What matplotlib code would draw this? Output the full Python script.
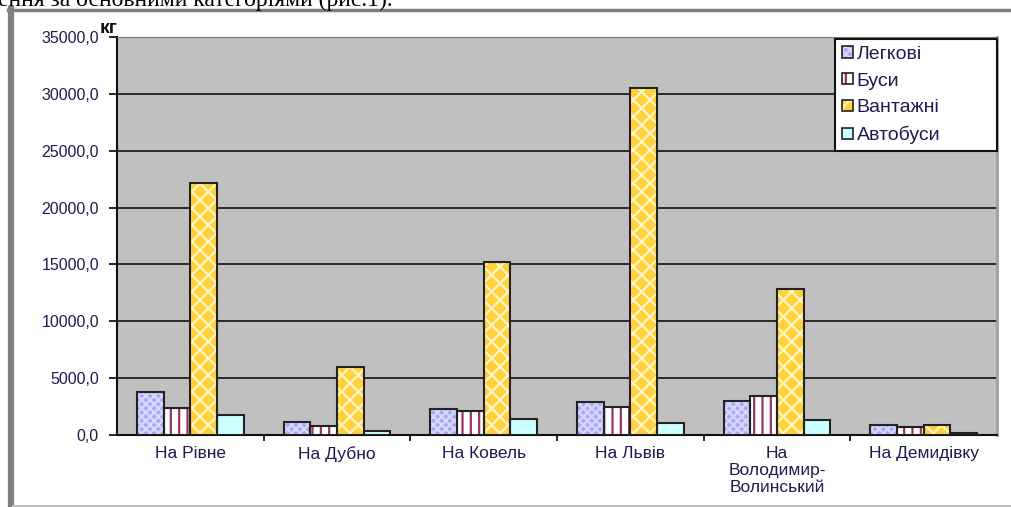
import numpy as np
import matplotlib
matplotlib.use("Agg")
import matplotlib.pyplot as plt
from matplotlib.patches import Patch
from matplotlib.lines import Line2D
from matplotlib.legend_handler import HandlerTuple
from matplotlib.ticker import FuncFormatter, FixedLocator

plt.rcParams['font.family'] = ['Liberation Sans', 'DejaVu Sans']
plt.rcParams['hatch.linewidth'] = 1.6

# data (kg)
categories = ["На Рівне", "На Дубно", "На Ковель", "На Львів",
              "На\nВолодимир-\nВолинський", "На Демидівку"]
series_names = ["Легкові", "Буси", "Вантажні", "Автобуси"]
legkovi = [3810, 1170, 2260, 2930, 3020, 880]
busy = [2350, 790, 2140, 2430, 3460, 670]
vantazhni = [22130, 6010, 15190, 30520, 12840, 880]
avtobusy = [1760, 380, 1380, 1080, 1350, 200]

values = [legkovi, busy, vantazhni, avtobusy]
face = ['#a8a8f6', '#ffffff', '#ffd23c', '#ccffff']
hatch = ['xxxx', '||', 'xx', None]
hatch_col = ['#d8d8ff', '#993366', '#fff4c8', '#ccffff']

text_col = '#1c1c50'

fig = plt.figure(figsize=(10.12, 5.07), dpi=100)
W, H = 1012, 507
ax = fig.add_axes([117 / W, (H - 435) / H, (997 - 117) / W, (435 - 37) / H])
ax.set_facecolor('#c0c0c0')

x = np.arange(len(categories))
bw = 0.182
handles = []
for i, vals in enumerate(values):
    pos = x + (i - 1.5) * bw
    ax.bar(pos, vals, bw, color=face[i], hatch=hatch[i],
           edgecolor=hatch_col[i], linewidth=0, zorder=3)
    ax.bar(pos, vals, bw, fill=False, edgecolor='#222222',
           linewidth=1.5, zorder=4)
    handles.append((Patch(facecolor=face[i], hatch=hatch[i],
                          edgecolor=hatch_col[i], linewidth=0),
                    Patch(fill=False, edgecolor='#222222', linewidth=1.2)))

ax.set_xlim(-0.5, len(categories) - 0.5)
ax.set_ylim(0, 35000)
ax.set_yticks(np.arange(0, 35001, 5000))
ax.yaxis.set_major_formatter(FuncFormatter(lambda v, p: f"{v:.1f}".replace('.', ',')))
ax.grid(True, axis='y', color='#2a2a2a', linewidth=1.4, zorder=1)
ax.set_axisbelow(True)

ax.set_xticks(x)
ax.set_xticklabels(categories, fontsize=12.5, color=text_col, linespacing=1.15)
ax.xaxis.set_minor_locator(FixedLocator(np.arange(0.5, len(categories) - 0.5, 1)))
ax.tick_params(axis='x', which='major', length=0, pad=8)
ax.tick_params(axis='x', which='minor', length=4, width=1.2, direction='out')
ax.tick_params(axis='y', length=6, width=1.2, direction='out', pad=7,
               labelsize=11.5, labelcolor=text_col)

for s in ['left', 'bottom']:
    ax.spines[s].set_color('#111111')
    ax.spines[s].set_linewidth(1.5)
ax.spines['top'].set_color('#777777')
ax.spines['right'].set_color('#a0a0a0')
ax.spines['right'].set_linewidth(2)

ax.text(-0.02, 1.0, "кг", transform=ax.transAxes, fontsize=14,
        fontweight='bold', color='#111111', ha='left', va='bottom')

leg = ax.legend(handles, series_names, handler_map={tuple: HandlerTuple(ndivide=1)},
                loc='upper left', bbox_to_anchor=(0.816, 0.995, 0.184, 0.0),
                mode='expand', borderaxespad=0, fancybox=False,
                framealpha=1, edgecolor='#111111', fontsize=14,
                handlelength=0.55, handleheight=0.55, handletextpad=0.2,
                labelspacing=0.5, borderpad=0.35, labelcolor=text_col)
leg.get_frame().set_linewidth(1.5)
leg.set_zorder(10)

# page frame and the cut-off line of text above the chart
fig.add_artist(Line2D([10.5 / W, 10.5 / W], [0, 1 - 9 / H], color='#808080',
                      linewidth=4.5, transform=fig.transFigure))
fig.add_artist(Line2D([8 / W, 1], [1 - 9.5 / H, 1 - 9.5 / H], color='#808080',
                      linewidth=2.5, transform=fig.transFigure))
fig.add_artist(Line2D([13 / W, 1], [1.5 / H, 1.5 / H], color='#c0c0c0',
                      linewidth=1.5, transform=fig.transFigure))
fig.text(-2 / W, 1 - 6 / H, "ення за основними категоріями (рис.1).",
         fontsize=17, family='Liberation Serif', ha='left', va='baseline',
         color='black')

fig.savefig("out.png", dpi=100)
